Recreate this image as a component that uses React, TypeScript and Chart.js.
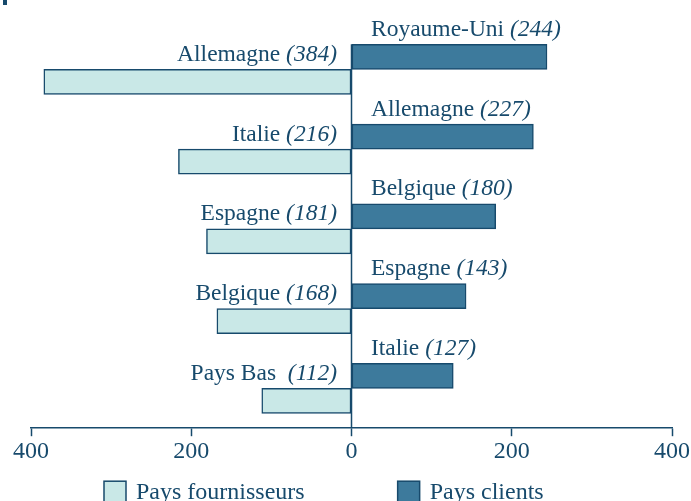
import React, { useEffect, useRef } from "react";
import { Chart, registerables } from "chart.js";

Chart.register(...registerables);

// ---- data ----
const rows = ["r1", "r2", "r3", "r4", "r5"];
const clientCountries = ["Royaume-Uni", "Allemagne", "Belgique", "Espagne", "Italie"];
const clientValues = [244, 227, 180, 143, 127];
const supplierCountries = ["Allemagne", "Italie", "Espagne", "Belgique", "Pays Bas "];
const supplierValues = [384, 216, 181, 168, 112];
const xTickValues = [-400, -200, 0, 200, 400];
const seriesLabels = ["Pays clients", "Pays fournisseurs"];

// ---- styles ----
const INK = "#174a6c";
const DARK_FILL = "#3d7a9c";
const LIGHT_FILL = "#c9e8e7";
const FONT = '"Liberation Serif", "DejaVu Serif", serif';
const FS = 23.5;
const LEGEND_FS = 24;

const labelPlugin = {
  id: "barLabels",
  afterDatasetsDraw(chart: any) {
    const ctx = chart.ctx;
    ctx.save();
    // zero line
    const xs = chart.scales.x;
    const x0 = xs.getPixelForValue(0);
    const first = chart.getDatasetMeta(0).data[0];
    if (first) {
      const p = first.getProps(["y", "height"], true);
      ctx.strokeStyle = INK;
      ctx.lineWidth = 1.5;
      ctx.beginPath();
      ctx.moveTo(x0, p.y - p.height / 2);
      ctx.lineTo(x0, chart.chartArea.bottom);
      ctx.stroke();
    }
    ctx.fillStyle = INK;
    ctx.textBaseline = "alphabetic";
    ctx.textAlign = "left";
    chart.data.datasets.forEach((ds: any, di: number) => {
      const meta = chart.getDatasetMeta(di);
      const names = di === 0 ? clientCountries : supplierCountries;
      const vals = di === 0 ? clientValues : supplierValues;
      meta.data.forEach((el: any, i: number) => {
        const { y, base, height } = el.getProps(["y", "base", "height"], true);
        const ty = y - height / 2 - 8.5;
        const name = names[i] + " ";
        const val = "(" + vals[i] + ")";
        const normal = `${FS}px ${FONT}`;
        const italic = `italic ${FS}px ${FONT}`;
        ctx.font = normal;
        const wn = ctx.measureText(name).width;
        ctx.font = italic;
        const wv = ctx.measureText(val).width;
        const start = di === 0 ? base + 19 : base - 14 - wn - wv;
        ctx.font = normal;
        ctx.fillText(name, start, ty);
        ctx.font = italic;
        ctx.fillText(val, start + wn, ty);
      });
    });
    ctx.restore();
  },
  afterDraw(chart: any) {
    const ctx = chart.ctx;
    const area = chart.chartArea;
    ctx.save();
    ctx.font = `${LEGEND_FS}px ${FONT}`;
    ctx.textBaseline = "alphabetic";
    ctx.textAlign = "left";
    const order = [1, 0];
    let x = area.left + 73;
    const boxTop = area.bottom + 53;
    const box = 22;
    order.forEach((di) => {
      const ds = chart.data.datasets[di];
      ctx.fillStyle = ds.backgroundColor;
      ctx.fillRect(x, boxTop, box, box);
      ctx.strokeStyle = INK;
      ctx.lineWidth = 1.5;
      ctx.strokeRect(x, boxTop, box, box);
      ctx.fillStyle = INK;
      ctx.fillText(ds.label, x + box + 10, boxTop + 18);
      x += box + 10 + ctx.measureText(ds.label).width + 93;
    });
    ctx.restore();
  },
};

export default function App() {
  const ref = useRef<HTMLCanvasElement>(null);
  useEffect(() => {
    if (!ref.current) return;
    const chart = new Chart(ref.current, {
      type: "bar",
      data: {
        labels: rows,
        datasets: [
          {
            label: seriesLabels[0],
            data: clientValues,
            backgroundColor: DARK_FILL,
            borderColor: INK,
            borderWidth: 1.5,
            borderSkipped: false,
          },
          {
            label: seriesLabels[1],
            data: supplierValues.map((v) => -v),
            backgroundColor: LIGHT_FILL,
            borderColor: INK,
            borderWidth: 1.5,
            borderSkipped: false,
          },
        ],
      },
      options: {
        indexAxis: "y",
        animation: false,
        responsive: true,
        maintainAspectRatio: false,
        datasets: { bar: { barThickness: 25 } },
        layout: { padding: { left: 31, right: 18, top: 29.5, bottom: 34 } },
        plugins: {
          legend: { display: false },
          tooltip: { enabled: false },
        },
        scales: {
          y: { display: false },
          x: {
            min: -400,
            max: 400,
            afterBuildTicks: (axis: any) => {
              axis.ticks = xTickValues.map((v) => ({ value: v }));
            },
            border: { display: true, color: INK, width: 1.5 },
            grid: {
              drawOnChartArea: false,
              drawTicks: true,
              tickLength: 8,
              tickColor: INK,
              tickWidth: 1.5,
            },
            ticks: {
              color: INK,
              padding: 1,
              font: { family: FONT, size: 24 },
              callback: (v: any) => String(Math.abs(Number(v))),
            },
          },
        },
      },
      plugins: [labelPlugin],
    });
    return () => chart.destroy();
  }, []);
  return (
    <div style={{ position: "absolute", left: 0, top: 0, width: 691, height: 501 }}>
      <div style={{ position: "absolute", left: 3, top: 0, width: 4, height: 5, background: INK }} />
      <canvas ref={ref} />
    </div>
  );
}
